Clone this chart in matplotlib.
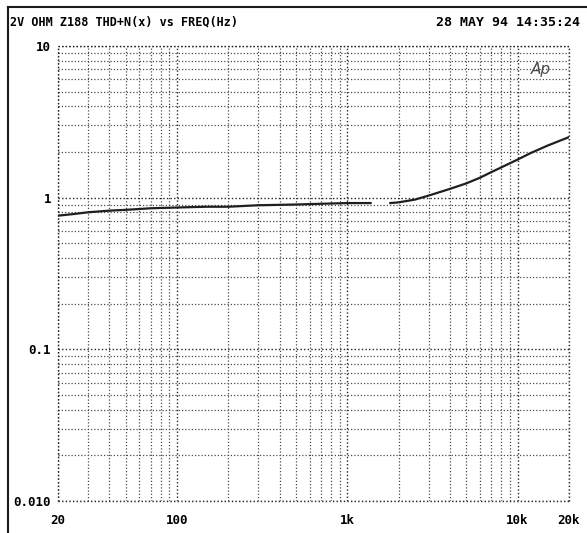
import matplotlib.pyplot as plt
from matplotlib.ticker import LogLocator, NullFormatter, FixedLocator

# THD+N sweep, two segments (there is a dropout around 1.5 kHz)
freq_lo = [20, 25, 30, 40, 50, 70, 100, 150, 200, 300, 500, 700, 1000, 1370]
thd_lo = [0.76, 0.78, 0.80, 0.82, 0.83, 0.85, 0.86, 0.87, 0.87, 0.89, 0.90, 0.91, 0.92, 0.92]
freq_hi = [1790, 2000, 2500, 3000, 4000, 5000, 6000, 7000, 8500, 10000, 12000, 15000, 20000]
thd_hi = [0.92, 0.93, 0.97, 1.03, 1.14, 1.24, 1.35, 1.47, 1.63, 1.78, 1.97, 2.2, 2.5]

xticks = [20, 100, 1000, 10000, 20000]
xlabels = ['20', '100', '1k', '10k', '20k']
yticks = [0.01, 0.1, 1, 10]
ylabels = ['0.010', '0.1', '1', '10']

mono = {'family': 'DejaVu Sans Mono', 'weight': 'bold'}
dots = (0, (1, 1.6))

fig = plt.figure(figsize=(5.87, 5.33), dpi=100)
ax = fig.add_axes([0.099, 0.060, 0.870, 0.854])
ax.set_xscale('log')
ax.set_yscale('log')
ax.set_xlim(20, 20000)
ax.set_ylim(0.01, 10)

ax.plot(freq_lo, thd_lo, color='0.12', lw=1.6)
ax.plot(freq_hi, thd_hi, color='0.12', lw=1.6)

# dotted grid everywhere, the frame is dotted too
ax.xaxis.set_major_locator(FixedLocator(xticks))
ax.xaxis.set_minor_locator(LogLocator(base=10, subs=range(2, 10)))
ax.yaxis.set_minor_locator(LogLocator(base=10, subs=range(2, 10)))
ax.xaxis.set_minor_formatter(NullFormatter())
ax.yaxis.set_minor_formatter(NullFormatter())
ax.grid(True, which='major', ls=dots, color='0.15', lw=1.0)
ax.grid(True, which='minor', ls=dots, color='0.3', lw=0.9)
for s in ax.spines.values():
    s.set_visible(False)
for xv in (20, 20000):
    ax.axvline(xv, ls=dots, color='0.15', lw=1.0, clip_on=False)
for yv in (10, 0.01):
    ax.axhline(yv, ls=dots, color='0.15', lw=1.0, clip_on=False)

ax.set_xticks(xticks)
ax.set_xticklabels(xlabels, fontdict=mono, fontsize=9)
ax.set_yticks(yticks)
ax.set_yticklabels(ylabels, fontdict=mono, fontsize=9)
ax.tick_params(which='both', length=0, pad=5)
ax.tick_params(axis='x', pad=9)

fig.text(0.017, 0.958, '2V OHM Z188 THD+N(x) vs FREQ(Hz)', fontdict=mono, fontsize=8.5,
         ha='left', va='center')
fig.text(0.988, 0.958, '28 MAY 94 14:35:24', fontdict=mono, fontsize=9.5,
         ha='right', va='center')
ax.text(0.965, 0.965, 'Ap', transform=ax.transAxes, ha='right', va='top',
        fontsize=11, style='italic', color='0.3', family='DejaVu Sans')

# outer border (left and top only)
fig.add_artist(plt.Line2D([0.014, 0.014], [0, 0.986], color='0.1', lw=1.5))
fig.add_artist(plt.Line2D([0.014, 1.0], [0.986, 0.986], color='0.1', lw=1.5))

fig.savefig('out.png', dpi=100)
